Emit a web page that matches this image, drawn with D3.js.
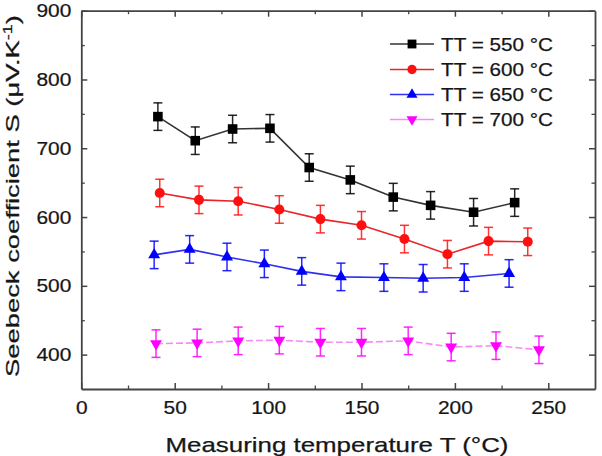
<!DOCTYPE html>
<html>
<head>
<meta charset="utf-8">
<script src="https://cdn.jsdelivr.net/npm/d3@7/dist/d3.min.js"></script>
<style>
  html, body { margin: 0; padding: 0; background: #fff; }
  svg { display: block; font-family: "Liberation Sans", Arial, Helvetica, sans-serif; }
</style>
</head>
<body>
<svg id="chart" width="602" height="456"></svg>
<script>
// ---------- data ----------
const seriesNames = ["TT = 550 °C", "TT = 600 °C", "TT = 650 °C", "TT = 700 °C"];
const temp550 = [41, 61, 81, 101, 122, 144, 167, 187, 210, 232];
const seeb550 = [746, 711, 728, 729, 672, 654, 629, 617, 607, 621];
const err550  = [20, 20, 20, 20, 20, 20, 20, 20, 20, 20];
const temp600 = [42, 63, 84, 106, 128, 150, 173, 196, 218, 239];
const seeb600 = [635, 625, 623, 611, 597, 588, 568, 546, 565, 564];
const err600  = [20, 20, 20, 20, 20, 20, 20, 20, 20, 20];
const temp650 = [39, 58, 78, 98, 118, 139, 162, 183, 205, 229];
const seeb650 = [545, 553, 542, 532, 521, 513, 512, 511, 512, 518];
const err650  = [20, 20, 20, 20, 20, 20, 20, 20, 20, 20];
const temp700 = [40, 62, 84, 106, 128, 150, 175, 198, 222, 245];
const seeb700 = [416, 417, 420, 421, 418, 418, 420, 411, 413, 407];
const err700  = [20, 20, 20, 20, 20, 20, 20, 20, 20, 20];
const xTicks = [0, 50, 100, 150, 200, 250];
const xMinor = [25, 75, 125, 175, 225];
const yTicks = [400, 500, 600, 700, 800, 900];
const yMinor = [450, 550, 650, 750, 850];

// ---------- styles ----------
const styles = [
  { line: "#333333", mark: "#000000", sym: d3.symbolSquare, size: 92, rot: 0, dash: null, opacity: 1 },
  { line: "#e8262a", mark: "#ff1010", sym: d3.symbolCircle, size: 80, rot: 0, dash: null, opacity: 1 },
  { line: "#3030ee", mark: "#0000ff", sym: d3.symbolTriangle, size: 62, rot: 0, dash: null, opacity: 1 },
  { line: "#f070f0", mark: "#ff00ff", sym: d3.symbolTriangle, size: 62, rot: 180, dash: "7,3", opacity: 0.8 }
];
const series = [
  { name: seriesNames[0], x: temp550, y: seeb550, e: err550 },
  { name: seriesNames[1], x: temp600, y: seeb600, e: err600 },
  { name: seriesNames[2], x: temp650, y: seeb650, e: err650 },
  { name: seriesNames[3], x: temp700, y: seeb700, e: err700 }
];

const svg = d3.select("#chart");
const L = 81.3, R = 595, T = 10.7, B = 389;
const x = d3.scaleLinear().domain([0, 275]).range([L, R]);
const y = d3.scaleLinear().domain([350, 900]).range([B, T]);

const axisColor = "#444";
const textColor = "#161616";
function styleAxis(g) {
  g.select(".domain").attr("stroke", axisColor).attr("stroke-width", 1.8);
  g.selectAll(".tick line").attr("stroke", axisColor).attr("stroke-width", 1.5);
  g.selectAll(".tick text").attr("fill", textColor).attr("font-size", 19)
    .attr("stroke", textColor).attr("stroke-width", 0.25);
}
function minorStyle(g) {
  g.select(".domain").remove();
  g.selectAll(".tick line").attr("stroke", axisColor).attr("stroke-width", 1.3);
}

// bottom
const gB = svg.append("g").attr("transform", `translate(0,${B})`)
  .call(d3.axisBottom(x).tickValues(xTicks).tickSize(-6).tickSizeOuter(0).tickPadding(12).tickFormat(d3.format("d")));
styleAxis(gB);
gB.selectAll(".tick text").attr("transform", "scale(1.1,1)");
svg.append("g").attr("transform", `translate(0,${B})`)
  .call(d3.axisBottom(x).tickValues(xMinor).tickSize(-3.5).tickSizeOuter(0).tickFormat(""))
  .call(minorStyle);

// top
const gT = svg.append("g").attr("transform", `translate(0,${T})`)
  .call(d3.axisTop(x).tickValues(xTicks).tickSize(-6).tickSizeOuter(0).tickFormat(""));
styleAxis(gT);
svg.append("g").attr("transform", `translate(0,${T})`)
  .call(d3.axisTop(x).tickValues(xMinor).tickSize(-3.5).tickSizeOuter(0).tickFormat(""))
  .call(minorStyle);

// left
const gL = svg.append("g").attr("transform", `translate(${L},0)`)
  .call(d3.axisLeft(y).tickValues(yTicks).tickSize(-6).tickSizeOuter(0).tickPadding(11).tickFormat(d3.format("d")));
styleAxis(gL);
gL.selectAll(".tick text").attr("transform", "scale(1.1,1)").attr("x", -10 / 1.1);
svg.append("g").attr("transform", `translate(${L},0)`)
  .call(d3.axisLeft(y).tickValues(yMinor).tickSize(-3.5).tickSizeOuter(0).tickFormat(""))
  .call(minorStyle);

// right
const gR = svg.append("g").attr("transform", `translate(${R},0)`)
  .call(d3.axisRight(y).tickValues(yTicks).tickSize(-6).tickSizeOuter(0).tickFormat(""));
styleAxis(gR);
svg.append("g").attr("transform", `translate(${R},0)`)
  .call(d3.axisRight(y).tickValues(yMinor).tickSize(-3.5).tickSizeOuter(0).tickFormat(""))
  .call(minorStyle);

// ---------- series ----------
const capW = 4.5;
series.forEach((s, i) => {
  const st = styles[i];
  const pts = s.x.map((xv, j) => ({ x: xv, y: s.y[j], e: s.e[j] }));
  const g = svg.append("g");
  g.append("path").datum(pts)
    .attr("fill", "none").attr("stroke", st.line).attr("stroke-width", 1.6)
    .attr("stroke-opacity", st.opacity)
    .attr("stroke-dasharray", st.dash)
    .attr("d", d3.line().x(d => x(d.x)).y(d => y(d.y)));
  const eb = g.selectAll("g.eb").data(pts).join("g").attr("class", "eb")
    .attr("stroke", st.mark).attr("stroke-width", 1.5).attr("stroke-opacity", 0.85);
  eb.append("line").attr("x1", d => x(d.x)).attr("x2", d => x(d.x))
    .attr("y1", d => y(d.y - d.e)).attr("y2", d => y(d.y + d.e));
  eb.append("line").attr("x1", d => x(d.x) - capW).attr("x2", d => x(d.x) + capW)
    .attr("y1", d => y(d.y + d.e)).attr("y2", d => y(d.y + d.e));
  eb.append("line").attr("x1", d => x(d.x) - capW).attr("x2", d => x(d.x) + capW)
    .attr("y1", d => y(d.y - d.e)).attr("y2", d => y(d.y - d.e));
  g.selectAll("path.m").data(pts).join("path").attr("class", "m")
    .attr("d", d3.symbol().type(st.sym).size(st.size))
    .attr("transform", d => `translate(${x(d.x)},${y(d.y)}) rotate(${st.rot})`)
    .attr("fill", st.mark);
});

// ---------- legend ----------
const legY = [44, 69.5, 94.5, 119.5];
series.forEach((s, i) => {
  const st = styles[i];
  const g = svg.append("g").attr("transform", `translate(0,${legY[i]})`);
  g.append("line").attr("x1", 390).attr("x2", 434).attr("y1", 0).attr("y2", 0)
    .attr("stroke", st.line).attr("stroke-width", 1.6).attr("stroke-opacity", st.opacity);
  g.append("path").attr("d", d3.symbol().type(st.sym).size(st.size * 0.85)())
    .attr("transform", `translate(412,0) rotate(${st.rot})`).attr("fill", st.mark);
  g.append("text").attr("x", 441).attr("y", 0).attr("dy", "0.36em")
    .attr("font-size", 18.5).attr("fill", textColor)
    .attr("stroke", textColor).attr("stroke-width", 0.25)
    .attr("textLength", 112).attr("lengthAdjust", "spacingAndGlyphs")
    .text(s.name);
});

// ---------- axis titles ----------
svg.append("text")
  .attr("x", 337).attr("y", 452).attr("text-anchor", "middle")
  .attr("font-size", 21).attr("fill", textColor)
  .attr("stroke", textColor).attr("stroke-width", 0.25)
  .attr("textLength", 343).attr("lengthAdjust", "spacingAndGlyphs")
  .text("Measuring temperature T (°C)");

const yt = svg.append("text")
  .attr("transform", "translate(19,196) rotate(-90)")
  .attr("text-anchor", "middle")
  .attr("font-size", 19).attr("fill", textColor)
  .attr("stroke", textColor).attr("stroke-width", 0.25)
  .attr("textLength", 362).attr("lengthAdjust", "spacingAndGlyphs");
yt.append("tspan").text("Seebeck coefficient S (μV.K");
yt.append("tspan").attr("font-size", 12.5).attr("dy", -7).text("-1");
yt.append("tspan").attr("dy", 7).text(")");
</script>
</body>
</html>
